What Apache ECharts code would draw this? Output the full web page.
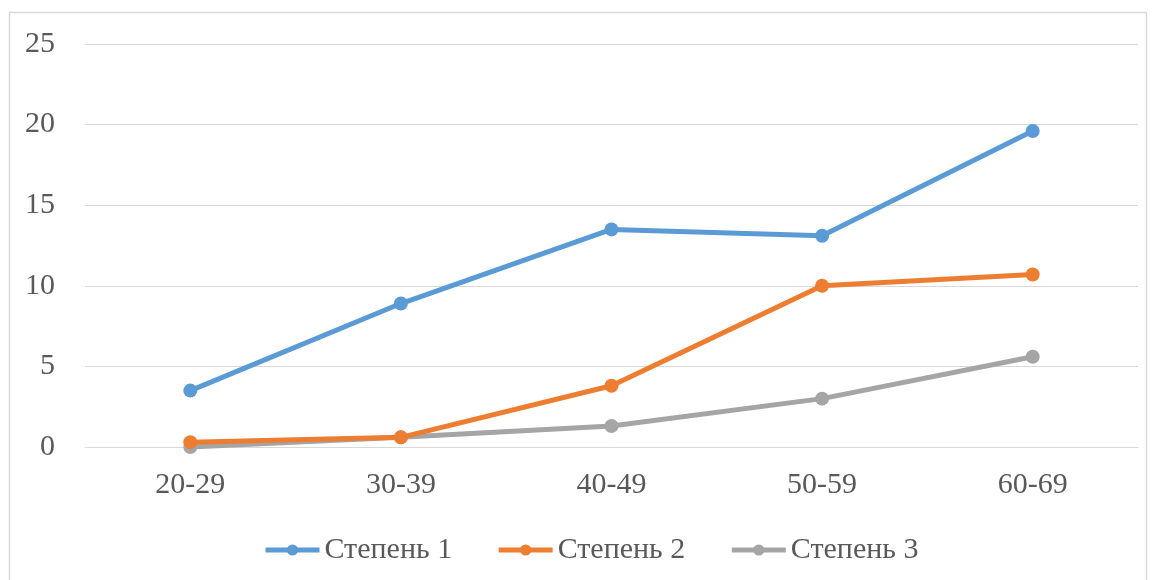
<!DOCTYPE html>
<html><head><meta charset="utf-8">
<script src="https://cdn.jsdelivr.net/npm/echarts@6/dist/echarts.min.js"></script>
<style>html,body{margin:0;padding:0;background:#fff}#c{width:1153px;height:580px}</style>
</head><body><div id="c"></div>
<script>
const categories = ['20-29','30-39','40-49','50-59','60-69'];
const seriesNames = ['Степень 1','Степень 2','Степень 3'];
const s1 = [3.5, 8.9, 13.5, 13.1, 19.6];
const s2 = [0.3, 0.6, 3.8, 10.0, 10.7];
const s3 = [0.0, 0.6, 1.3, 3.0, 5.6];
const yTicks = {min:0, max:25, interval:5};
const colors = ['#5B9BD5','#ED7D31','#A5A5A5'];
const font = '"Liberation Serif","Times New Roman",serif';
const chart = echarts.init(document.getElementById('c'));
const mk = (name, data, i) => ({
  name, type:'line', data, symbol:'circle', symbolSize:14,
  lineStyle:{width:5, color:colors[i]}, itemStyle:{color:colors[i]},
  emphasis:{disabled:true}, z: 10 - i
});
chart.setOption({
  animation:false,
  graphic:[{type:'rect', shape:{x:9.5,y:12.5,width:1137,height:600}, style:{fill:'none', stroke:'#d9d9d9', lineWidth:1.5}, silent:true}],
  grid:{left:85, right:15, top:44, bottom:133, containLabel:false},
  legend:{bottom:10, left:258, itemWidth:54, itemHeight:14, itemGap:44,
    lineStyle:{width:5},
    textStyle:{fontFamily:font, fontSize:30, color:'#595959'},
    data:seriesNames},
  xAxis:{type:'category', data:categories, boundaryGap:true,
    axisLine:{show:true, lineStyle:{color:'#d9d9d9', width:1}}, axisTick:{show:false},
    axisLabel:{fontFamily:font, fontSize:30, color:'#595959', margin:23}},
  yAxis:{type:'value', min:yTicks.min, max:yTicks.max, interval:yTicks.interval,
    axisLine:{show:false}, axisTick:{show:false},
    splitLine:{lineStyle:{color:'#d9d9d9', width:1}},
    axisLabel:{fontFamily:font, fontSize:30, color:'#595959', margin:30, align:'right'}},
  series:[mk(seriesNames[0], s1, 0), mk(seriesNames[1], s2, 1), mk(seriesNames[2], s3, 2)]
});
</script></body></html>
